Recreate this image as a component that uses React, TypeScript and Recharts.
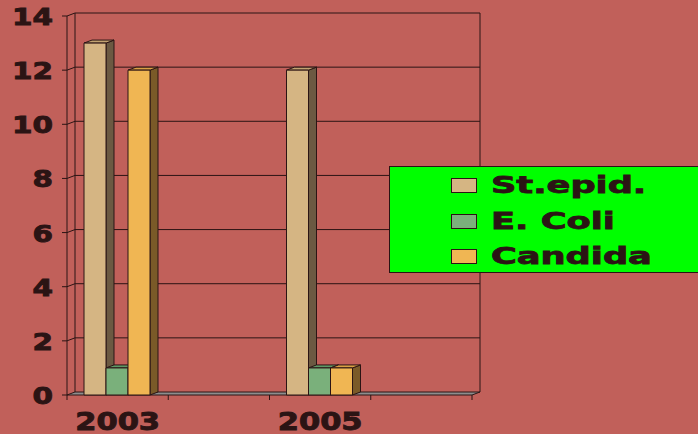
import React from "react";
import { BarChart, Bar, XAxis, YAxis, CartesianGrid } from "recharts";

const years = ["2003", "2004", "2005", "2006"];
const stEpid = [13, 0, 12, 0];
const eColi = [1, 0, 1, 0];
const candida = [12, 0, 1, 0];
const yTicks = [0, 2, 4, 6, 8, 10, 12, 14];

const series = [
  { key: "stEpid", name: "St.epid.", front: "#D5B583", top: "#C2A371", side: "#6B5942" },
  { key: "eColi", name: "E. Coli", front: "#7AB07B", top: "#5F9866", side: "#4D6E4F" },
  { key: "candida", name: "Candida", front: "#F0B653", top: "#D9A044", side: "#7A5A28" },
];

const data = years.map((year, i) => ({
  year,
  stEpid: stEpid[i],
  eColi: eColi[i],
  candida: candida[i],
}));

const BG = "#C1605A";
const INK = "#2B1414";
const DX = 8;
const DY = 3;
const FONT = "'DejaVu Sans', sans-serif";

const makeBar = (s: any) => (props: any) => {
  const { x, y, width, height } = props;
  if (!height || height <= 0) return <g />;
  const r = x + width;
  const b = y + height;
  return (
    <g stroke={INK} strokeWidth={1} strokeLinejoin="round">
      <polygon points={`${r},${y} ${r + DX},${y - DY} ${r + DX},${b - DY} ${r},${b}`} fill={s.side} />
      <polygon points={`${x},${y} ${x + DX},${y - DY} ${r + DX},${y - DY} ${r},${y}`} fill={s.top} />
      <rect x={x} y={y} width={width} height={height} fill={s.front} />
    </g>
  );
};

// back wall + floor, drawn from the horizontal grid lines
const gridLine = (p: any) => {
  const { x1, x2, y1, index, x, y, width, height } = p;
  const bottom = y + height;
  if (Math.abs(y1 - bottom) < 0.5) {
    return (
      <g key={`grid-${index}`} stroke={INK} strokeWidth={1}>
        <line x1={x + DX} y1={y - DY} x2={x + DX} y2={bottom - DY} />
        <line x1={x + width + DX} y1={y - DY} x2={x + width + DX} y2={bottom - DY} />
        <polygon
          points={`${x},${bottom} ${x + width},${bottom} ${x + width + DX},${bottom - DY} ${x + DX},${bottom - DY}`}
          fill="#8D8D8D"
        />
      </g>
    );
  }
  return (
    <g key={`grid-${index}`} stroke={INK} strokeWidth={1}>
      <line x1={x1} y1={y1} x2={x1 + DX} y2={y1 - DY} />
      <line x1={x1 + DX} y1={y1 - DY} x2={x2 + DX} y2={y1 - DY} />
    </g>
  );
};

const YTick = (props: any) => {
  const { x, y, payload } = props;
  return (
    <g transform={`translate(${x},${y})`}>
      <text
        x={0}
        y={0}
        dy={9}
        textAnchor="end"
        transform="scale(1.28,1)"
        fontFamily={FONT}
        fontWeight="bold"
        fontSize={23}
        fill={INK}
        stroke={INK}
        strokeWidth={0.9}
      >
        {payload.value}
      </text>
    </g>
  );
};

const XTick = (props: any) => {
  const { x, y, index, width, visibleTicksCount } = props;
  const band = width / visibleTicksCount;
  const left = x - band / 2;
  return (
    <g stroke={INK}>
      <line x1={left} y1={y} x2={left} y2={y + 5} />
      {index === visibleTicksCount - 1 && <line x1={left + band} y1={y} x2={left + band} y2={y + 5} />}
      {index % 2 === 0 && (
        <text
          x={0}
          y={0}
          transform={`translate(${x},${y + 35}) scale(1.27,1)`}
          textAnchor="middle"
          fontFamily={FONT}
          fontWeight="bold"
          fontSize={24}
          fill={INK}
          strokeWidth={0.9}
        >
          {props.payload.value}
        </text>
      )}
    </g>
  );
};

const LegendBox = () => (
  <div
    style={{
      position: "absolute",
      left: 389,
      top: 166,
      width: 320,
      height: 107,
      background: "#00FF00",
      border: `1px solid ${INK}`,
      boxSizing: "border-box",
    }}
  >
    {series.map((s, i) => (
      <div key={s.key}>
        <div
          style={{
            position: "absolute",
            left: 61,
            top: 11 + i * 35.5,
            width: 26,
            height: 15,
            background: s.front,
            border: `1px solid ${INK}`,
            boxSizing: "border-box",
          }}
        />
        <div
          style={{
            position: "absolute",
            left: 101,
            top: 3 + i * 35.5,
            fontFamily: FONT,
            fontWeight: "bold",
            fontSize: 23,
            lineHeight: "30px",
            color: INK,
            WebkitTextStroke: `0.8px ${INK}`,
            whiteSpace: "nowrap",
            transform: "scale(1.53,1)",
            transformOrigin: "left center",
          }}
        >
          {s.name}
        </div>
      </div>
    ))}
  </div>
);

export default function App() {
  return (
    <div style={{ position: "absolute", left: 0, top: 0, width: 698, height: 434, background: BG, overflow: "hidden" }}>
      <BarChart
        width={698}
        height={434}
        data={data}
        margin={{ top: 16, right: 226, bottom: 0, left: 0 }}
        barCategoryGap={17}
        barGap={0}
      >
        <CartesianGrid vertical={false} horizontal={gridLine} />
        <XAxis
          dataKey="year"
          height={39}
          interval={0}
          axisLine={false}
          tickLine={false}
          tickSize={0}
          tickMargin={0}
          tick={<XTick />}
        />
        <YAxis
          width={67}
          domain={[0, 14]}
          ticks={yTicks}
          interval={0}
          axisLine={{ stroke: INK }}
          tickLine={{ stroke: INK }}
          tickSize={5}
          tickMargin={9}
          tick={<YTick />}
        />
        {series.map((s) => (
          <Bar key={s.key} dataKey={s.key} name={s.name} shape={makeBar(s)} isAnimationActive={false} />
        ))}
      </BarChart>
      <LegendBox />
    </div>
  );
}
